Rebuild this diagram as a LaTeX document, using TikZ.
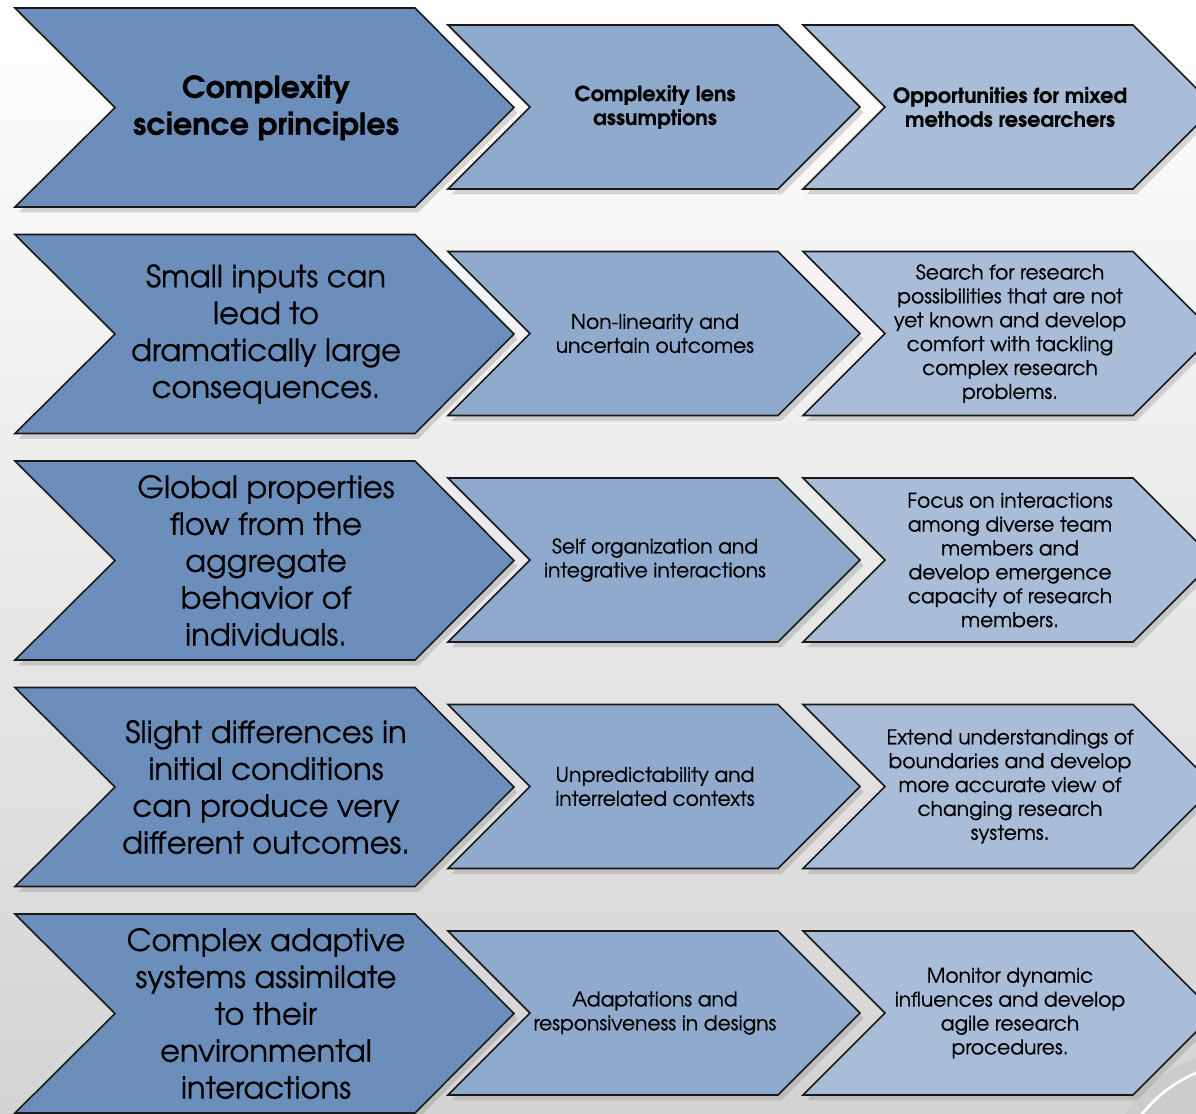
\documentclass[tikz,border=0pt]{standalone}
\usepackage{fontspec}
\setmainfont[FakeBold=0.5]{TeX Gyre Adventor}
\newfontfamily\headfont[FakeBold=1.2]{TeX Gyre Adventor}
\usetikzlibrary{shadows}
\definecolor{bigblue}{RGB}{107,142,187}
\definecolor{midblue}{RGB}{143,170,204}
\definecolor{paleblue}{RGB}{169,189,216}
\begin{document}
\begin{tikzpicture}[x=0.02cm,y=-0.02cm, line join=miter,
	chev/.style={draw=black!90, line width=0.9pt, drop shadow={shadow xshift=2pt, shadow yshift=-3pt, opacity=0.3}},
	bigtxt/.style={align=center, font=\fontsize{17.4}{21}\selectfont},
	smalltxt/.style={align=center, font=\fontsize{11.5}{13.6}\selectfont},
	bighead/.style={bigtxt, font=\fontsize{17.2}{21}\selectfont\bfseries},
	smallhead/.style={smalltxt, font=\fontsize{11.8}{13.6}\selectfont\bfseries}]
	\useasboundingbox (0,0) rectangle (1196,1113);
	\clip (0,0) rectangle (1196,1113);
	\fill[top color=white, bottom color=gray!34] (0,0) rectangle (1196,1113);
	% corner ornament
	\fill[gray!55] (1252,1204) circle (152);
	\fill[gray!40] (1250,1200) circle (152);
	\draw[white, line width=1.5pt] (1250,1200) ++(205:138) arc (205:250:138);
	% chevrons
	\foreach \i in {0,...,4}
	{\pgfmathsetmacro\t{8+226.5*\i} \pgfmathsetmacro\b{\t+199} \pgfmathsetmacro\m{\t+99.5}
		\pgfmathsetmacro\tt{25+226.5*\i} \pgfmathsetmacro\bb{\tt+164} \pgfmathsetmacro\mm{\tt+82}
		\draw[chev, fill=bigblue] (15,\t)--(415,\t)--(514,\m)--(415,\b)--(15,\b)--(115,\m)--cycle;
		\draw[chev, fill=midblue] (448,\tt)--(778,\tt)--(860,\mm)--(778,\bb)--(448,\bb)--(530,\mm)--cycle;
		\draw[chev, fill=paleblue] (803,\tt)--(1133,\tt)--(1215,\mm)--(1133,\bb)--(803,\bb)--(885,\mm)--cycle;
		\coordinate (p\i) at (266,\m);
		\coordinate (l\i) at (655,\mm);
		\coordinate (o\i) at (1010,\mm);}
	% texts
	\node[bighead] (princ0) at (p0) {Complexity\\science principles};
	\node[smallhead] (lens0) at (l0) {Complexity lens\\assumptions};
	\node[smallhead] (opp0) at (o0) {Opportunities for mixed\\methods researchers};
	\node[bigtxt] (princ1) at (p1) {Small inputs can\\lead to\\dramatically large\\consequences.};
	\node[smalltxt] (lens1) at (l1) {Non-linearity and\\uncertain outcomes};
	\node[smalltxt] (opp1) at (o1) {Search for research\\possibilities that are not\\yet known and develop\\comfort with tackling\\complex research\\problems.};
	\node[bigtxt] (princ2) at (p2) {Global properties\\flow from the\\aggregate\\behavior of\\individuals.};
	\node[smalltxt] (lens2) at (l2) {Self organization and\\integrative interactions};
	\node[smalltxt] (opp2) at (o2) {Focus on interactions\\among diverse team\\members and\\develop emergence\\capacity of research\\members.};
	\node[bigtxt] (princ3) at (p3) {Slight differences in\\initial conditions\\can produce very\\different outcomes.};
	\node[smalltxt] (lens3) at (l3) {Unpredictability and\\interrelated contexts};
	\node[smalltxt] (opp3) at (o3) {Extend understandings of\\boundaries and develop\\more accurate view of\\changing research\\systems.};
	\node[bigtxt] (princ4) at (p4) {Complex adaptive\\systems assimilate\\to their\\environmental\\interactions};
	\node[smalltxt] (lens4) at (l4) {Adaptations and\\responsiveness in designs};
	\node[smalltxt] (opp4) at (o4) {Monitor dynamic\\influences and develop\\agile research\\procedures.};
\end{tikzpicture}
\end{document}
